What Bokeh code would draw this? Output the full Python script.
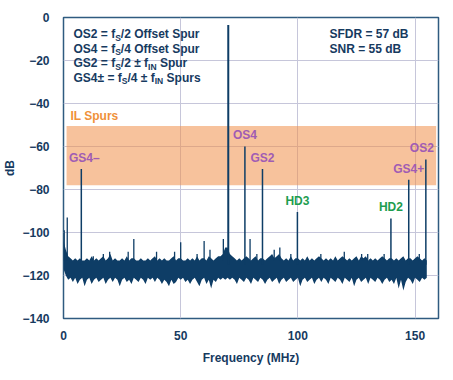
from bokeh.plotting import figure
from bokeh.models import BoxAnnotation, Label, FixedTicker
from bokeh.embed import file_html
from bokeh.resources import INLINE

# ---------------- data ----------------
noise_freq = list(range(156))
noise_top = [
    -104, -108, -111, -112, -113, -112, -113, -112, -113, -113,
    -112, -113, -111, -113, -112, -113, -112, -111, -113, -112,
    -110, -113, -112, -113, -113, -112, -113, -111, -113, -112,
    -112, -113, -113, -112, -113, -113, -112, -113, -112, -111,
    -113, -112, -113, -112, -113, -113, -112, -111, -113, -112,
    -112, -113, -113, -112, -113, -112, -113, -111, -113, -112,
    -112, -113, -111, -112, -113, -112, -111, -111, -110, -107,
    -107, -110, -111, -112, -113, -112, -113, -112, -111, -112,
    -113, -112, -111, -113, -112, -112, -113, -112, -111, -110,
    -112, -111, -110, -112, -113, -112, -113, -111, -113, -112,
    -112, -113, -112, -113, -111, -113, -112, -113, -112, -111,
    -112, -113, -112, -113, -112, -113, -111, -113, -112, -111,
    -112, -113, -112, -113, -112, -111, -113, -111, -112, -111,
    -113, -112, -113, -112, -113, -112, -111, -112, -113, -112,
    -112, -113, -112, -113, -112, -111, -113, -112, -112, -113,
    -112, -111, -112, -113, -112, -113,
]
noise_bot = [
    -117, -120, -122, -121, -123, -121, -124, -122, -121, -125,
    -122, -121, -124, -122, -121, -123, -122, -121, -124, -122,
    -121, -123, -121, -122, -125, -122, -121, -123, -122, -124,
    -121, -122, -123, -121, -122, -124, -121, -122, -121, -123,
    -121, -122, -124, -122, -123, -125, -122, -124, -123, -121,
    -122, -121, -123, -122, -124, -122, -121, -123, -125, -122,
    -121, -124, -122, -126, -122, -123, -121, -122, -121, -122,
    -121, -122, -121, -122, -124, -121, -122, -123, -121, -122,
    -124, -121, -122, -123, -121, -122, -124, -122, -121, -123,
    -122, -121, -124, -122, -121, -123, -122, -121, -123, -122,
    -121, -125, -122, -121, -123, -122, -121, -124, -122, -121,
    -123, -121, -122, -124, -121, -122, -123, -121, -122, -124,
    -121, -122, -123, -121, -125, -122, -121, -123, -122, -121,
    -124, -121, -122, -123, -121, -122, -124, -122, -121, -123,
    -122, -124, -121, -126, -122, -127, -123, -121, -122, -124,
    -121, -122, -123, -121, -122, -121,
]
minor_freq = [0.3, 1.6, 12.7, 17.0, 19.7, 27.6, 30.0, 39.7, 47.4, 50.0, 57.0, 60.0,
              62.5, 68.2, 79.6, 82.5, 89.9, 92.3, 97.0, 109.8, 119.8, 127.2, 129.8,
              136.8, 151.8]
minor_db = [-99, -93, -111, -110, -109, -109, -103, -109, -109, -104.5, -110, -104,
            -108, -103, -103, -110, -108, -107, -110, -110, -109, -110, -110,
            -110, -110]

spur_names = ["", "GS4\u2013", "OS4", "GS2", "HD3", "HD2", "GS4+", "OS2"]
spur_freq = [70.3, 7.6, 77.4, 84.9, 99.8, 139.7, 147.3, 154.6]
spur_db = [-3.5, -70.5, -60.0, -70.5, -90.5, -93.5, -75.5, -66.0]
spur_kind = ["fund", "gs", "os", "gs", "hd", "hd", "gs", "os"]

legend_rows = [
    [("OS2 = f", 0), ("S", 1), ("/2 Offset Spur", 0)],
    [("OS4 = f", 0), ("S", 1), ("/4 Offset Spur", 0)],
    [("GS2 = f", 0), ("S", 1), ("/2 \u00b1 f", 0), ("IN", 1), ("Spur", 0)],
    [("GS4\u00b1 = f", 0), ("S", 1), ("/4 \u00b1 f", 0), ("IN", 1), ("Spurs", 0)],
]
stats_lines = ["SFDR = 57 dB", "SNR = 55 dB"]
band_title = "IL Spurs"
x_ticks = [0, 50, 100, 150]
y_ticks = [-140, -120, -100, -80, -60, -40, -20, 0]

# ---------------- style ----------------
NAVY = "#0e3d66"
TXT = "#163a5f"
PURPLE = "#a05cb4"
GREEN = "#1d9d4f"
ORANGE = "#f0913a"
FONT = "Liberation Sans"

FL, FT, FW, FH = 63, 17, 375, 301   # frame in page px
XMAX, YMIN = 160, -140


def px2x(px):
    return (px - FL) / FW * XMAX


def px2y(py):
    return (py - FT) / FH * YMIN


ADV = {' ': 278, '=': 584, '\u00b1': 549, '/': 278, 'G': 778, 'O': 778, 'S': 667,
       'I': 278, 'N': 722, 'f': 333, 'p': 611, 'u': 611, 'r': 389, 's': 556,
       'e': 556, 't': 333}


def tw(s, size):
    return sum(ADV.get(c, 556) for c in s) * size / 1000.0


p = figure(frame_width=FW, frame_height=FH, x_range=(0, XMAX), y_range=(YMIN, 0),
           output_backend="svg", toolbar_location=None,
           min_border_left=FL, min_border_top=FT, min_border_right=453 - FL - FW,
           min_border_bottom=380 - FT - FH)
p.background_fill_color = "white"
p.border_fill_color = "white"
p.outline_line_color = "#2f5b80"
p.outline_line_width = 1.5

p.xgrid.grid_line_color = "#c6c6da"
p.ygrid.grid_line_color = "#c6c6da"
p.xaxis.ticker = FixedTicker(ticks=x_ticks)
p.yaxis.ticker = FixedTicker(ticks=y_ticks)
p.yaxis.major_label_overrides = {v: (("\u2212" + str(-v)) if v < 0 else str(v)) for v in y_ticks}

for ax in (p.xaxis[0], p.yaxis[0]):
    ax.axis_line_color = None
    ax.major_tick_line_color = None
    ax.minor_tick_line_color = None
    ax.major_label_text_font = FONT
    ax.major_label_text_font_style = "bold"
    ax.major_label_text_font_size = "12px"
    ax.major_label_text_color = TXT
    ax.axis_label_text_font = FONT
    ax.axis_label_text_font_style = "bold"
    ax.axis_label_text_font_size = "12px"
    ax.axis_label_text_color = TXT
p.xaxis.major_label_standoff = 6
p.yaxis.major_label_standoff = 8
p.xaxis.axis_label = "Frequency (MHz)"
p.yaxis.axis_label = "dB"
p.xaxis.axis_label_standoff = 8
p.yaxis.axis_label_standoff = 2

# orange band
p.add_layout(BoxAnnotation(left=1.3, right=159, bottom=-78, top=-50.5,
                           fill_color="#f0904a", fill_alpha=0.55, line_color=None,
                           level="underlay"))

# noise floor
p.varea(x=noise_freq, y1=noise_bot, y2=noise_top, fill_color=NAVY)
p.segment(x0=minor_freq, y0=[-113] * len(minor_freq), x1=minor_freq, y1=minor_db,
          line_color=NAVY, line_width=1.3)

# spurs
widths = [2.0 if k == "fund" else 1.5 for k in spur_kind]
p.segment(x0=spur_freq, y0=[-115] * len(spur_freq), x1=spur_freq, y1=spur_db,
          line_color=NAVY, line_width=widths)

for name, f, d, k in zip(spur_names, spur_freq, spur_db, spur_kind):
    if not name:
        continue
    col = GREEN if k == "hd" else PURPLE
    xo = -4 if name == "OS2" else (3 if name.startswith("GS4\u2013") else 0)
    p.add_layout(Label(x=f, y=d + 2.0, text=name, text_align="center",
                       text_baseline="bottom", x_offset=xo,
                       text_font=FONT, text_font_style="bold", text_font_size="12px",
                       text_color=col))

# legend text with subscripts
row_centers = [33.5, 48, 62.5, 77]
for row, cy in zip(legend_rows, row_centers):
    xpx = 73.0
    for txt, sub in row:
        size = 8.5 if sub else 12
        ypx = cy + (3.5 if sub else 0)
        if txt in ("Spur", "Spurs"):
            xpx += tw(" ", 12)
        p.add_layout(Label(x=px2x(xpx), y=px2y(ypx), text=txt, text_align="left",
                           text_baseline="middle", text_font=FONT,
                           text_font_style="bold", text_font_size=f"{size}px",
                           text_color=TXT))
        xpx += tw(txt, size)

for i, s in enumerate(stats_lines):
    p.add_layout(Label(x=px2x(329), y=px2y(33.5 + 14.5 * i), text=s, text_align="left",
                       text_baseline="middle", text_font=FONT, text_font_style="bold",
                       text_font_size="12px", text_color=TXT))

p.add_layout(Label(x=px2x(70), y=px2y(115.5), text=band_title, text_align="left",
                   text_baseline="middle", text_font=FONT, text_font_style="bold",
                   text_font_size="12px", text_color=ORANGE))

open("out.html", "w").write(file_html(p, INLINE))
